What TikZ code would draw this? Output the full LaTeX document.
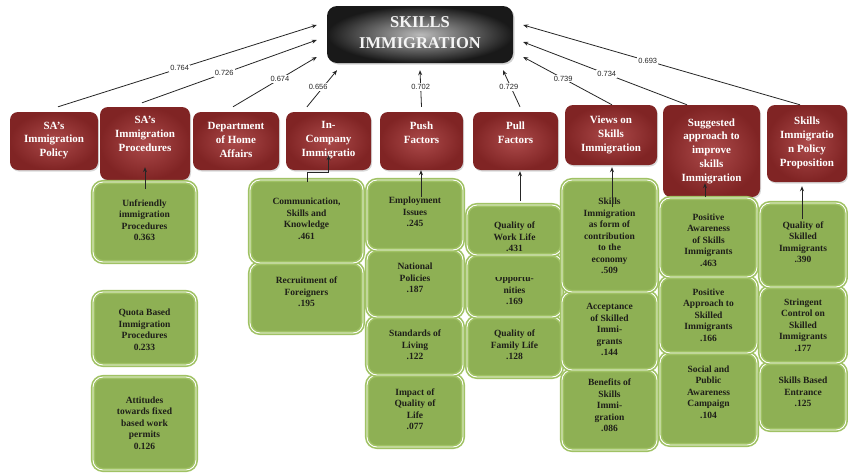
\documentclass[tikz,border=0pt]{standalone}
\usepackage{fontspec}
\setmainfont{Liberation Serif}
\newfontfamily\lblfont{Liberation Sans}
\usetikzlibrary{arrows.meta,shadows,calc}
\definecolor{rin}{RGB}{172,74,74}
\definecolor{rout}{RGB}{128,36,36}
\definecolor{tin}{RGB}{185,185,185}
\definecolor{tout}{RGB}{25,25,25}
\definecolor{gbody}{RGB}{142,176,84}
\definecolor{gedge}{RGB}{160,194,100}
\definecolor{gtxt}{RGB}{30,30,25}
\tikzset{
  topbox/.style={rounded corners=10pt, inner color=tin, outer color=tout,
    drop shadow={opacity=0.35, shadow xshift=1.5pt, shadow yshift=-1.5pt}},
  redbox/.style={rounded corners=8pt, inner color=rin, outer color=rout,
    drop shadow={opacity=0.3, shadow xshift=1pt, shadow yshift=-1.5pt}},
  redtext/.style={text=white, align=center, inner sep=0pt,
    font=\bfseries\fontsize{11}{13.8}\selectfont},
  toptext/.style={text=white!92!gray, align=center, inner sep=0pt,
    font=\bfseries\fontsize{16.5}{21}\selectfont},
  gbox/.style={rounded corners=10pt, fill=gbody, draw=gedge, line width=1.6pt,
    double=white, double distance=0.9pt},
  gtext/.style={text=gtxt, align=center, inner sep=0pt,
    font=\bfseries\fontsize{9.5}{11.5}\selectfont},
  conn/.style={-{Stealth[length=5pt,width=4pt]}, line width=0.8pt, black!85},
  lbl/.style={fill=white, inner sep=1.2pt, text=black!85,
    font=\lblfont\fontsize{7.5}{8}\selectfont},
}
\begin{document}
\begin{tikzpicture}[x=1pt,y=-1pt]
\useasboundingbox[fill=white] (0,0) rectangle (848,472);

% top node
\node[topbox, minimum width=186pt, minimum height=57pt] (top) at (420,34.5) {};
\node[toptext] (toptxt) at (420,33) {SKILLS\\IMMIGRATION};

% red boxes
\node[redbox, minimum width=88pt, minimum height=58pt] (r1) at (54,141) {};
\node[redbox, minimum width=90pt, minimum height=73pt] (r2) at (145,143.5) {};
\node[redbox, minimum width=86pt, minimum height=58pt] (r3) at (236,141) {};
\node[redbox, minimum width=85pt, minimum height=58pt] (r4) at (328.5,141) {};
\node[redbox, minimum width=83pt, minimum height=58pt] (r5) at (421.5,141) {};
\node[redbox, minimum width=85pt, minimum height=58pt] (r6) at (515.5,141) {};
\node[redbox, minimum width=92pt, minimum height=60pt] (r7) at (611,135) {};
\node[redbox, minimum width=97pt, minimum height=92pt] (r8) at (711.5,151) {};
\node[redbox, minimum width=80pt, minimum height=77pt] (r9) at (807,143.5) {};

\node[redtext] (t1) at (54,140.5) {SA’s\\Immigration\\Policy};
\node[redtext] (t2) at (145,134) {SA’s\\Immigration\\Procedures};
\node[redtext] (t3) at (236,140) {Department\\of Home\\Affairs};
\node[redtext] (t4) at (328.5,140) {In-\\Company\\Immigratio};
\node[redtext] (t5) at (421.5,133) {Push\\Factors};
\node[redtext] (t6) at (515.5,132.5) {Pull\\Factors};
\node[redtext] (t7) at (611,135) {Views on\\Skills\\Immigration};
\node[redtext] (t8) at (711.5,151) {Suggested\\approach to\\improve\\skills\\Immigration};
\node[redtext] (t9) at (807,143) {Skills\\Immigratio\\n Policy\\Proposition};

% main connectors
\draw[conn] ($(r1.north)+(4,-5)$) -- node[lbl,pos=0.47] {0.764} ($(top.west)+(-10,-9.5)$);
\draw[conn] ($(r2.north)+(-3,-4)$) -- node[lbl,pos=0.47] {0.726} ($(top.west)+(-10,5.5)$);
\draw[conn] ($(r3.north)+(-3,-5)$) -- node[lbl,pos=0.56] {0.674} ($(top.west)+(-10,22.5)$);
\draw[conn] ($(r4.north)+(-21.5,-5)$) -- node[lbl,pos=0.54,xshift=-5pt] {0.656} ($(top.south)+(-83,7)$);
\draw[conn] ($(r5.north)+(0,-5)$) -- node[lbl,pos=0.54] {0.702} ($(top.south)+(0,7)$);
\draw[conn] ($(r6.north)+(4.5,-5)$) -- node[lbl,pos=0.54,xshift=-2pt] {0.729} ($(top.south)+(83,7)$);
\draw[conn] ($(r7.north)+(1,0)$) -- node[lbl,pos=0.55] {0.739} ($(top.east)+(10,22.5)$);
\draw[conn] ($(r8.north)+(-24.5,0)$) -- node[lbl,pos=0.49] {0.734} ($(top.east)+(10,7.5)$);
\draw[conn] ($(r9.north)+(-7,0)$) -- node[lbl,pos=0.55] {0.693} ($(top.east)+(10,-9.5)$);

% green boxes, column 1
\node[gbox, minimum width=103pt, minimum height=80pt] (g11) at (144.5,222) {};
\node[gbox, minimum width=103pt, minimum height=73pt] (g12) at (144.5,328.5) {};
\node[gbox, minimum width=103pt, minimum height=93pt] (g13) at (144.5,423.5) {};
% column 2
\node[gbox, minimum width=113pt, minimum height=70pt] (g22) at (306.5,298) {};
\node[gbox, minimum width=113pt, minimum height=83pt] (g21) at (306.5,221.5) {};
% column 3
\node[gbox, minimum width=96pt, minimum height=72pt] (g34) at (415,411) {};
\node[gbox, minimum width=96pt, minimum height=58pt] (g33) at (415,346) {};
\node[gbox, minimum width=96pt, minimum height=67pt] (g32) at (415,283.5) {};
\node[gbox, minimum width=96pt, minimum height=70pt] (g31) at (415,215) {};
% column 4
\node[gbox, minimum width=95pt, minimum height=60pt] (g43) at (514.5,347) {};
\node[gbox, minimum width=95pt, minimum height=62pt] (g42) at (514.5,286) {};
\node[gbox, minimum width=95pt, minimum height=50pt] (g41) at (514.5,230) {};
% column 5
\node[gbox, minimum width=95pt, minimum height=80pt] (g53) at (609.5,410) {};
\node[gbox, minimum width=95pt, minimum height=78pt] (g52) at (609.5,331) {};
\node[gbox, minimum width=95pt, minimum height=112pt] (g51) at (609.5,236) {};
% column 6
\node[gbox, minimum width=97pt, minimum height=92pt] (g63) at (708.5,399) {};
\node[gbox, minimum width=97pt, minimum height=76pt] (g62) at (708.5,315) {};
\node[gbox, minimum width=97pt, minimum height=79pt] (g61) at (708.5,237.5) {};
% column 7
\node[gbox, minimum width=86pt, minimum height=67pt] (g73) at (803,396.5) {};
\node[gbox, minimum width=86pt, minimum height=76pt] (g72) at (803,325) {};
\node[gbox, minimum width=86pt, minimum height=84pt] (g71) at (803,245) {};

% green texts
\node[gtext] (u11) at (144.5,220) {Unfriendly\\immigration\\Procedures\\0.363};
\node[gtext] (u12) at (144.5,330) {Quota Based\\Immigration\\Procedures\\0.233};
\node[gtext] (u13) at (144.5,423) {Attitudes\\towards fixed\\based work\\permits\\0.126};
\node[gtext] (u21) at (306.5,219) {Communication,\\Skills and\\Knowledge\\.461};
\node[gtext] (u22) at (306.5,292) {Recruitment of\\Foreigners\\.195};
\node[gtext] (u31) at (415,212) {Employment\\Issues\\.245};
\node[gtext] (u32) at (415,278) {National\\Policies\\.187};
\node[gtext] (u33) at (415,345) {Standards of\\Living\\.122};
\node[gtext] (u34) at (415,409) {Impact of\\Quality of\\Life\\.077};
\node[gtext] (u41) at (514.5,237) {Quality of\\Work Life\\.431};
\begin{scope}
\clip (467,277.5) rectangle (562,317);
\node[gtext] (u42) at (514.5,290) {Opportu-\\nities\\.169};
\end{scope}
\node[gtext] (u43) at (514.5,345) {Quality of\\Family Life\\.128};
\node[gtext] (u51) at (609.5,236) {Skills\\Immigration\\as form of\\contribution\\to the\\economy\\.509};
\node[gtext] (u52) at (609.5,329.5) {Acceptance\\of Skilled\\Immi-\\grants\\.144};
\node[gtext] (u53) at (609.5,405.5) {Benefits of\\Skills\\Immi-\\gration\\.086};
\node[gtext] (u61) at (708.5,240) {Positive\\Awareness\\of Skills\\Immigrants\\.463};
\node[gtext] (u62) at (708.5,315) {Positive\\Approach to\\Skilled\\Immigrants\\.166};
\node[gtext] (u63) at (708.5,392) {Social and\\Public\\Awareness\\Campaign\\.104};
\node[gtext] (u71) at (803,242) {Quality of\\Skilled\\Immigrants\\.390};
\node[gtext] (u72) at (803,325) {Stringent\\Control on\\Skilled\\Immigrants\\.177};
\node[gtext] (u73) at (803,392) {Skills Based\\Entrance\\.125};

% green-to-red connectors
\draw[conn] ($(g11.north)+(0.5,8)$) -- ($(r2.south)+(0,-13)$);
\draw[conn] ($(g21.north)+(0.5,3)$) |- ($(r4.south)+(0,2)$) -- ($(r4.south)+(0,-15)$);
\coordinate (c3) at ($(g31.north)+(6,18)$);
\draw[conn] (c3) -- (c3 |- r5.south);
\coordinate (c4) at ($(g41.north)+(5.5,-3)$);
\draw[conn] (c4) -- ($(c4 |- r6.south)+(0,1)$);
\coordinate (c5) at ($(g51.north)+(2.5,28)$);
\draw[conn] (c5) -- ($(c5 |- r7.south)+(0,2)$);
\coordinate (c6) at ($(g61.north)+(-3.5,0)$);
\draw[conn] (c6) -- ($(c6 |- r8.south)+(0,-14)$);
\coordinate (c7) at ($(g71.north)+(-1,17)$);
\draw[conn] (c7) -- ($(c7 |- r9.south)+(0,4)$);
\end{tikzpicture}
\end{document}
